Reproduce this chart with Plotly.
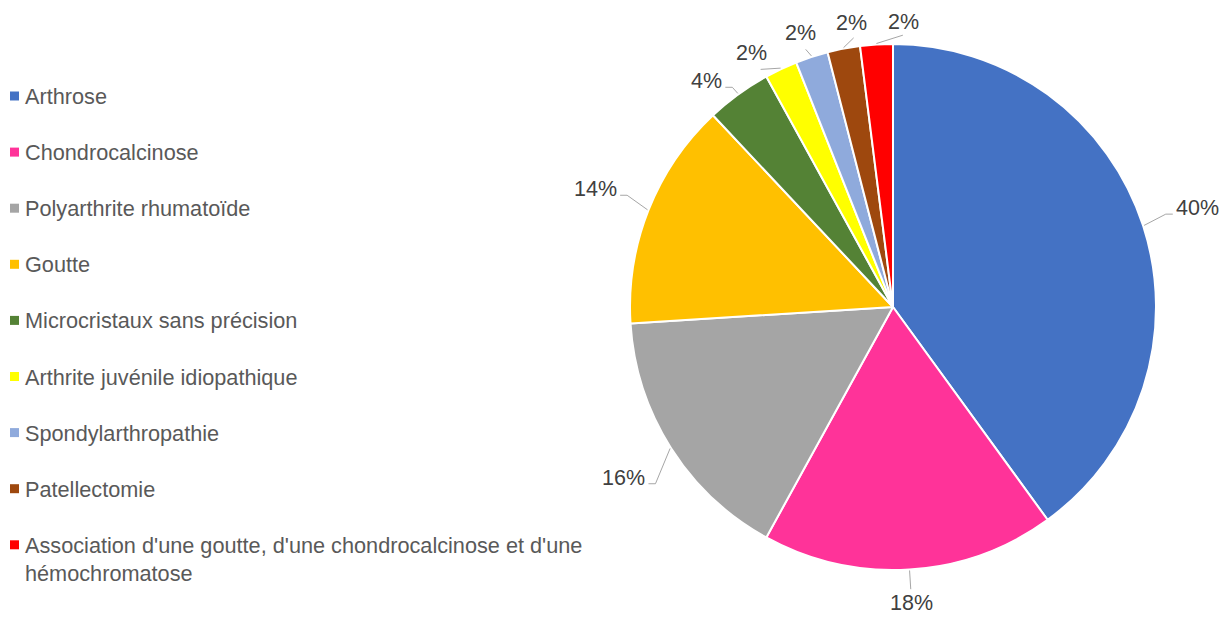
import math
import plotly.graph_objects as go

# Distribution of diagnoses (number of patients)
categories = [
    "Arthrose",
    "Chondrocalcinose",
    "Polyarthrite rhumatoïde",
    "Goutte",
    "Microcristaux sans précision",
    "Arthrite juvénile idiopathique",
    "Spondylarthropathie",
    "Patellectomie",
    "Association d'une goutte, d'une chondrocalcinose et d'une<br>hémochromatose",
]
counts = [20, 9, 8, 7, 2, 1, 1, 1, 1]
colors = ["#4472C4", "#FF3399", "#A5A5A5", "#FFC000", "#548235",
          "#FFFF00", "#8FAADC", "#9E480E", "#FF0000"]

W, H = 1223, 617
CX, CY, R = 893, 307, 263          # pie centre and radius in pixels
FONT = "Liberation Sans, Arial, sans-serif"
LABEL_COLOR = "#404040"
LEGEND_COLOR = "#595959"
FS_LABEL = 21.5
FS_LEGEND = 21.7


def px(x):
    return x / W


def py(y):
    return 1 - y / H


fig = go.Figure(go.Pie(
    labels=[c.replace("<br>", " ") for c in categories],
    values=counts,
    sort=False,
    direction="clockwise",
    rotation=0,
    marker=dict(colors=colors, line=dict(color="white", width=2)),
    textinfo="none",
    showlegend=False,
    domain=dict(x=[px(CX - R), px(CX + R)], y=[py(CY + R), py(CY - R)]),
))

shapes = []
annotations = []

# Mid angle of every slice (degrees, clockwise from 12 o'clock)
total = sum(counts)
mids = []
cum = 0
for v in counts:
    mids.append(360 * (cum + v / 2) / total)
    cum += v

# Spread label angles so neighbouring labels do not collide
MIN_SEP = 10.4
lab_ang = list(mids)
for _ in range(200):
    moved = False
    for i in range(len(lab_ang) - 1):
        d = lab_ang[i + 1] - lab_ang[i]
        if d < MIN_SEP:
            push = (MIN_SEP - d) / 2
            lab_ang[i] -= push
            lab_ang[i + 1] += push
            moved = True
    if not moved:
        break

# Percentage labels outside the slices, with leader lines
for v, mid, la in zip(counts, mids, lab_ang):
    pct = round(100 * v / total)
    txt = f"{pct}%"
    t = math.radians(la)
    dx, dy = math.sin(t), -math.cos(t)
    w = FS_LABEL * (0.556 * len(str(pct)) + 0.889)
    h = 20
    gap = 22 + 12 * abs(dx) if pct >= 10 else 12
    ext = abs(dx) * w / 2 + abs(dy) * h / 2
    dist = R + gap + ext
    lx, ly = CX + dist * dx, CY + dist * dy
    annotations.append(dict(
        x=px(lx), y=py(ly), xref="paper", yref="paper", text=txt,
        showarrow=False, xanchor="center", yanchor="middle",
        font=dict(family=FONT, size=FS_LABEL, color=LABEL_COLOR)))

    m = math.radians(mid)
    ex, ey = CX + (R + 1) * math.sin(m), CY - (R + 1) * math.cos(m)
    line = dict(color="#A6A6A6", width=1)
    if abs(dx) > 0.5:
        s = 1 if dx > 0 else -1
        endx = lx - s * (w / 2 + 3)
        endy = ly + 6
        elbx = endx - s * 7
        pts = [(ex, ey), (elbx, endy), (endx, endy)]
    else:
        endx = lx - dx * (ext + 3)
        endy = ly - dy * (ext + 3)
        pts = [(ex, ey), (endx, endy)]
    if math.hypot(pts[1][0] - ex, pts[1][1] - ey) > 6:
        for (x0, y0), (x1, y1) in zip(pts[:-1], pts[1:]):
            shapes.append(dict(type="line", xref="paper", yref="paper",
                               x0=px(x0), y0=py(y0), x1=px(x1), y1=py(y1),
                               line=line, layer="above"))

# Legend on the left: square swatches and category names
LEG_TOP, LEG_STEP = 96, 56.1
for i, (name, col) in enumerate(zip(categories, colors)):
    yc = LEG_TOP + i * LEG_STEP
    shapes.append(dict(type="rect", xref="paper", yref="paper",
                       x0=px(10), x1=px(19), y0=py(yc - 4.5), y1=py(yc + 4.5),
                       fillcolor=col, line=dict(width=0)))
    annotations.append(dict(
        x=px(23), y=py(yc - 14), xref="paper", yref="paper", text=name,
        showarrow=False, xanchor="left", yanchor="top", align="left",
        font=dict(family=FONT, size=FS_LEGEND, color=LEGEND_COLOR)))

fig.update_layout(
    width=W, height=H,
    margin=dict(l=0, r=0, t=0, b=0),
    paper_bgcolor="white",
    plot_bgcolor="white",
    shapes=shapes,
    annotations=annotations,
)

fig.write_html("out.html")
